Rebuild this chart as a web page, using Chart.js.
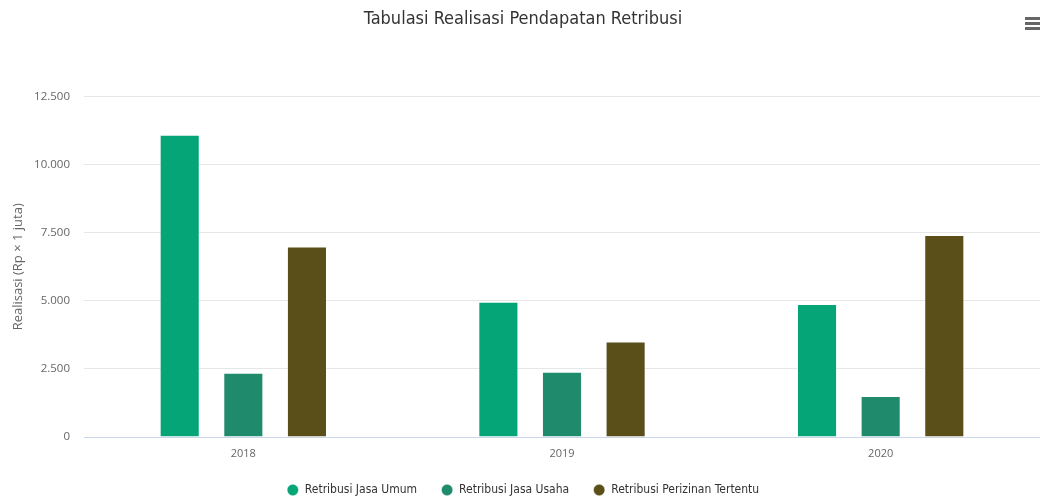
<!DOCTYPE html>
<html>
<head>
<meta charset="utf-8">
<script src="https://cdn.jsdelivr.net/npm/chart.js@4"></script>
<style>
  html, body { margin: 0; padding: 0; background: #fff; }
  #wrap { position: relative; width: 1040px; height: 499px; }
  .menu { position: absolute; left: 1025px; top: 17px; width: 16px; }
  .menu span { display: block; height: 3px; background: #666; margin-bottom: 2px; }
</style>
</head>
<body>
<div id="wrap">
  <canvas id="chart" width="1040" height="499"></canvas>
  <div class="menu"><span></span><span></span><span></span></div>
</div>
<script>
const years = ['2018', '2019', '2020'];
const jasaUmum = [11100, 4970, 4880];
const jasaUsaha = [2360, 2400, 1510];
const perizinanTertentu = [7000, 3510, 7420];
const seriesNames = ['Retribusi Jasa Umum', 'Retribusi Jasa Usaha', 'Retribusi Perizinan Tertentu'];
const seriesColors = ['#05a577', '#208b6c', '#5a4e19'];

const narrow = "'Liberation Sans Narrow', 'DejaVu Sans Condensed', sans-serif";
const tickFont = "'Open Sans', 'Liberation Sans', sans-serif";

const ctx = document.getElementById('chart').getContext('2d');
new Chart(ctx, {
  type: 'bar',
  data: {
    labels: years,
    datasets: [jasaUmum, jasaUsaha, perizinanTertentu].map((values, i) => ({
      label: seriesNames[i],
      data: values,
      backgroundColor: seriesColors[i],
      borderColor: 'rgba(255,255,255,0.35)',
      borderWidth: 1,
    })),
  },
  options: {
    responsive: false,
    animation: false,
    // negative bottom padding pushes the legend row down to where the reference has it
    layout: { padding: { left: 6, right: 0, top: 0, bottom: -7 } },
    datasets: { bar: { categoryPercentage: 0.599, barPercentage: 0.63 } },
    plugins: {
      title: {
        display: true,
        text: 'Tabulasi Realisasi Pendapatan Retribusi',
        color: '#333',
        font: { family: narrow, size: 18, weight: 'normal' },
        padding: { top: 9, bottom: 66 },
      },
      legend: {
        position: 'bottom',
        labels: {
          usePointStyle: true,
          pointStyle: 'circle',
          boxWidth: 12,
          boxHeight: 8,
          color: '#333',
          padding: 24,
          font: { family: narrow, size: 12, weight: 'normal' },
        },
      },
      tooltip: { enabled: false },
    },
    scales: {
      x: {
        afterFit: (scale) => { scale.height = 23; },
        grid: { display: false, drawTicks: false },
        border: { color: '#ccd6eb' },
        ticks: { color: '#666', font: { family: tickFont, size: 11 }, padding: 10 },
      },
      y: {
        min: 0,
        max: 12500,
        afterFit: (scale) => { scale.width = 78; },
        border: { display: false },
        grid: { color: '#e6e6e6', drawTicks: false },
        ticks: {
          stepSize: 2500,
          color: '#666',
          padding: 14,
          font: { family: tickFont, size: 11.5 },
          callback: (v) => String(v).replace(/\B(?=(\d{3})+(?!\d))/g, '.'),
        },
        title: {
          display: true,
          text: 'Realisasi (Rp × 1 juta)',
          color: '#666',
          padding: { top: 4, bottom: 0 },
          font: { family: tickFont, size: 13 },
        },
      },
    },
  },
});
</script>
</body>
</html>
